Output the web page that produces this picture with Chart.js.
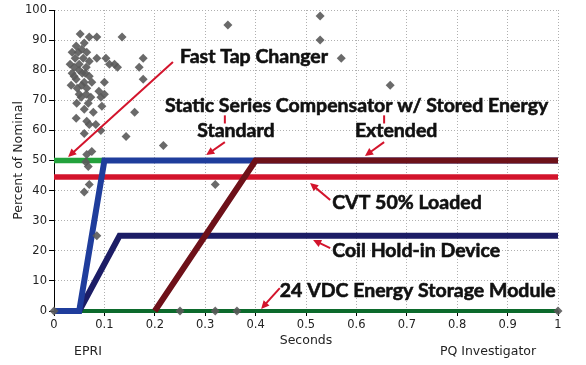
<!DOCTYPE html>
<html lang="en">
<head>
    <meta charset="UTF-8">
    <title>Ride-through devices</title>
    <script src="https://cdn.jsdelivr.net/npm/chart.js"></script>
    <style>
body {
    margin: 0;
    padding: 0;
    background-color: #fff;
}

canvas {
    display: block;
}
    </style>
</head>
<body>
    <canvas id="rideChart" width="586" height="365"></canvas>

    <script>
        // Tick labels
        const xTickLabels = ['0', '0.1', '0.2', '0.3', '0.4', '0.5', '0.6', '0.7', '0.8', '0.9', '1'];
        const yTickLabels = ['0', '10', '20', '30', '40', '50', '60', '70', '80', '90', '100'];

        // Measured sag events (seconds, percent of nominal)
        const eventX = [0.052, 0.07, 0.085, 0.135, 0.044, 0.06, 0.048, 0.036, 0.065, 0.085,
                        0.103, 0.11, 0.12, 0.126, 0.032, 0.04, 0.05, 0.064, 0.07, 0.036,
                        0.056, 0.07, 0.044, 0.06, 0.1, 0.034, 0.046, 0.065, 0.089, 0.1,
                        0.05, 0.064, 0.093, 0.054, 0.073, 0.06, 0.044, 0.065, 0.07, 0.083,
                        0.093, 0.06, 0.143, 0.075, 0.065, 0.063, 0.068, 0.07, 0.06, 0.085,
                        0.177, 0.169, 0.177, 0.16, 0.217, 0.095, 0.345, 0.528, 0.528, 0.57,
                        0.667, 0.32, 0, 0.25, 0.32, 0.363, 1,
                        0.055, 0.042, 0.058, 0.05, 0.062, 0.04, 0.055, 0.075, 0.068, 0.078, 0.045];
        const eventY = [92, 91, 91, 91, 88, 89, 86, 86, 86, 84,
                        84, 82, 82, 81, 82, 81, 82, 81, 83, 79,
                        79, 78, 77, 76, 76, 75, 74, 74, 73, 72,
                        72, 72, 71, 71, 71, 67, 64, 63, 62, 62,
                        60, 59, 58, 53, 52, 49.5, 48, 42, 39.5, 25,
                        84, 81, 77, 66, 55, 68, 95, 98, 90, 84,
                        75, 42, 0, 0, 0, 0, 0,
                        87, 84, 84, 80, 79, 78, 75, 76, 69, 66, 69];

        // Device ride-through curves
        const fastTapX = [0, 0.1];
        const fastTapY = [50, 50];
        const cvtX = [0, 1];
        const cvtY = [44.5, 44.5];
        const standardX = [0, 0.05, 0.1, 1];
        const standardY = [0, 0, 50, 50];
        const extendedX = [0.2, 0.4, 1];
        const extendedY = [0, 50, 50];
        const coilX = [0, 0.05, 0.13, 1];
        const coilY = [0, 0, 25, 25];
        const vdcX = [0, 1];
        const vdcY = [0, 0];

        // Callouts: text, left x, middle y (data units)
        const labelText = ['Fast Tap Changer', 'Static Series Compensator w/ Stored Energy', 'Standard', 'Extended',
                           'CVT 50% Loaded', 'Coil Hold-in Device', '24 VDC Energy Storage Module'];
        const labelX = [0.25, 0.22, 0.284, 0.597, 0.552, 0.552, 0.448];
        const labelY = [84.4, 68.1, 59.8, 59.8, 35.9, 19.9, 6.6];

        // Arrows: from (x1, y1) to head at (x2, y2)
        const arrowX1 = [0.236, 0.339, 0.655, 0.548, 0.548, 0.448];
        const arrowY1 = [82.7, 56.1, 56.1, 36.9, 20.9, 7.6];
        const arrowX2 = [0.028, 0.302, 0.617, 0.508, 0.514, 0.411];
        const arrowY2 = [51.2, 51.8, 51.5, 42.5, 23.6, 0.7];

        // small red marks above Standard / Extended
        const markX = [0.339, 0.655];
        const markY1 = [65, 65];
        const markY2 = [62.3, 62.3];

        function toPoints(xs, ys) {
            return xs.map((x, i) => ({ x: x, y: ys[i] }));
        }

        function lineSet(label, xs, ys, color, width, order) {
            return {
                label: label,
                data: toPoints(xs, ys),
                showLine: true,
                borderColor: color,
                backgroundColor: color,
                borderWidth: width,
                pointRadius: 0,
                borderCapStyle: 'butt',
                borderJoinStyle: 'miter',
                clip: 8,
                order: order
            };
        }

        const annotations = {
            id: 'annotations',
            afterDatasetsDraw(chart) {
                const ctx = chart.ctx;
                const xs = chart.scales.x;
                const ys = chart.scales.y;
                ctx.save();
                ctx.strokeStyle = '#d3142c';
                ctx.fillStyle = '#d3142c';
                ctx.lineWidth = 2;
                for (let i = 0; i < arrowX1.length; i++) {
                    const x1 = xs.getPixelForValue(arrowX1[i]);
                    const y1 = ys.getPixelForValue(arrowY1[i]);
                    const x2 = xs.getPixelForValue(arrowX2[i]);
                    const y2 = ys.getPixelForValue(arrowY2[i]);
                    const a = Math.atan2(y2 - y1, x2 - x1);
                    const head = 9;
                    ctx.beginPath();
                    ctx.moveTo(x1, y1);
                    ctx.lineTo(x2 - Math.cos(a) * head * 0.7, y2 - Math.sin(a) * head * 0.7);
                    ctx.stroke();
                    ctx.beginPath();
                    ctx.moveTo(x2, y2);
                    ctx.lineTo(x2 - head * Math.cos(a - 0.45), y2 - head * Math.sin(a - 0.45));
                    ctx.lineTo(x2 - head * Math.cos(a + 0.45), y2 - head * Math.sin(a + 0.45));
                    ctx.closePath();
                    ctx.fill();
                }
                for (let i = 0; i < markX.length; i++) {
                    const mx = xs.getPixelForValue(markX[i]);
                    ctx.beginPath();
                    ctx.moveTo(mx, ys.getPixelForValue(markY1[i]));
                    ctx.lineTo(mx, ys.getPixelForValue(markY2[i]));
                    ctx.stroke();
                }
                ctx.fillStyle = '#111';
                ctx.strokeStyle = '#111';
                ctx.lineWidth = 0.6;
                ctx.font = 'bold 19.5px Lato';
                ctx.textBaseline = 'middle';
                ctx.textAlign = 'left';
                for (let i = 0; i < labelText.length; i++) {
                    const tx = xs.getPixelForValue(labelX[i]);
                    const ty = ys.getPixelForValue(labelY[i]);
                    ctx.fillText(labelText[i], tx, ty);
                    ctx.strokeText(labelText[i], tx, ty);
                }
                // source captions under the axis
                ctx.font = '12.5px "DejaVu Sans"';
                ctx.fillStyle = '#222';
                ctx.textAlign = 'center';
                ctx.fillText('EPRI', 88, 352);
                ctx.fillText('PQ Investigator', 488, 352);
                ctx.restore();
            }
        };

        const ctx = document.getElementById('rideChart').getContext('2d');
        const rideChart = new Chart(ctx, {
            type: 'scatter',
            data: {
                datasets: [
                    {
                        label: 'Events',
                        data: toPoints(eventX, eventY),
                        pointStyle: 'rectRot',
                        pointRadius: 4.5,
                        pointBorderWidth: 0,
                        backgroundColor: 'rgba(90, 90, 90, 0.9)',
                        borderColor: 'rgba(90, 90, 90, 0.9)',
                        clip: 8,
                        order: 0
                    },
                    lineSet('Extended', extendedX, extendedY, '#6e1119', 6, 1),
                    lineSet('Standard', standardX, standardY, '#1f3d9c', 6, 2),
                    lineSet('Coil Hold-in Device', coilX, coilY, '#1c1d66', 6, 3),
                    lineSet('CVT 50% Loaded', cvtX, cvtY, '#d3142c', 5.5, 4),
                    lineSet('Fast Tap Changer', fastTapX, fastTapY, '#23a23c', 5.5, 5),
                    lineSet('24 VDC Energy Storage Module', vdcX, vdcY, '#0c6a2c', 4, 6)
                ]
            },
            options: {
                responsive: false,
                animation: false,
                devicePixelRatio: 1,
                layout: {
                    padding: { top: 10, right: 28, bottom: 0, left: 0 }
                },
                plugins: {
                    legend: { display: false },
                    tooltip: { enabled: false }
                },
                scales: {
                    x: {
                        type: 'linear',
                        min: 0,
                        max: 1,
                        afterFit(scale) { scale.height = 54; },
                        ticks: {
                            stepSize: 0.1,
                            padding: 2,
                            color: '#222',
                            font: { family: 'DejaVu Sans', size: 11.5 },
                            maxRotation: 0,
                            callback: (v, i) => xTickLabels[i]
                        },
                        grid: {
                            color: '#b0b0b0',
                            tickColor: '#000',
                            tickLength: 5
                        },
                        border: { color: '#000', width: 1, dash: [1, 2] },
                        title: {
                            display: true,
                            text: 'Seconds',
                            color: '#222',
                            font: { family: 'DejaVu Sans', size: 12.5 },
                            padding: { top: 0, bottom: 17 }
                        }
                    },
                    y: {
                        type: 'linear',
                        min: 0,
                        max: 100,
                        afterFit(scale) { scale.width = 54; },
                        ticks: {
                            stepSize: 10,
                            padding: 2,
                            color: '#222',
                            font: { family: 'DejaVu Sans', size: 11.5 },
                            callback: (v, i) => yTickLabels[i]
                        },
                        grid: {
                            color: '#b0b0b0',
                            tickColor: '#000',
                            tickLength: 5
                        },
                        border: { color: '#000', width: 1, dash: [1, 2] },
                        title: {
                            display: true,
                            text: 'Percent of Nominal',
                            color: '#222',
                            font: { family: 'DejaVu Sans', size: 12.5 },
                            padding: { top: 11, bottom: 0 }
                        }
                    }
                }
            },
            plugins: [annotations]
        });
    </script>
</body>
</html>
